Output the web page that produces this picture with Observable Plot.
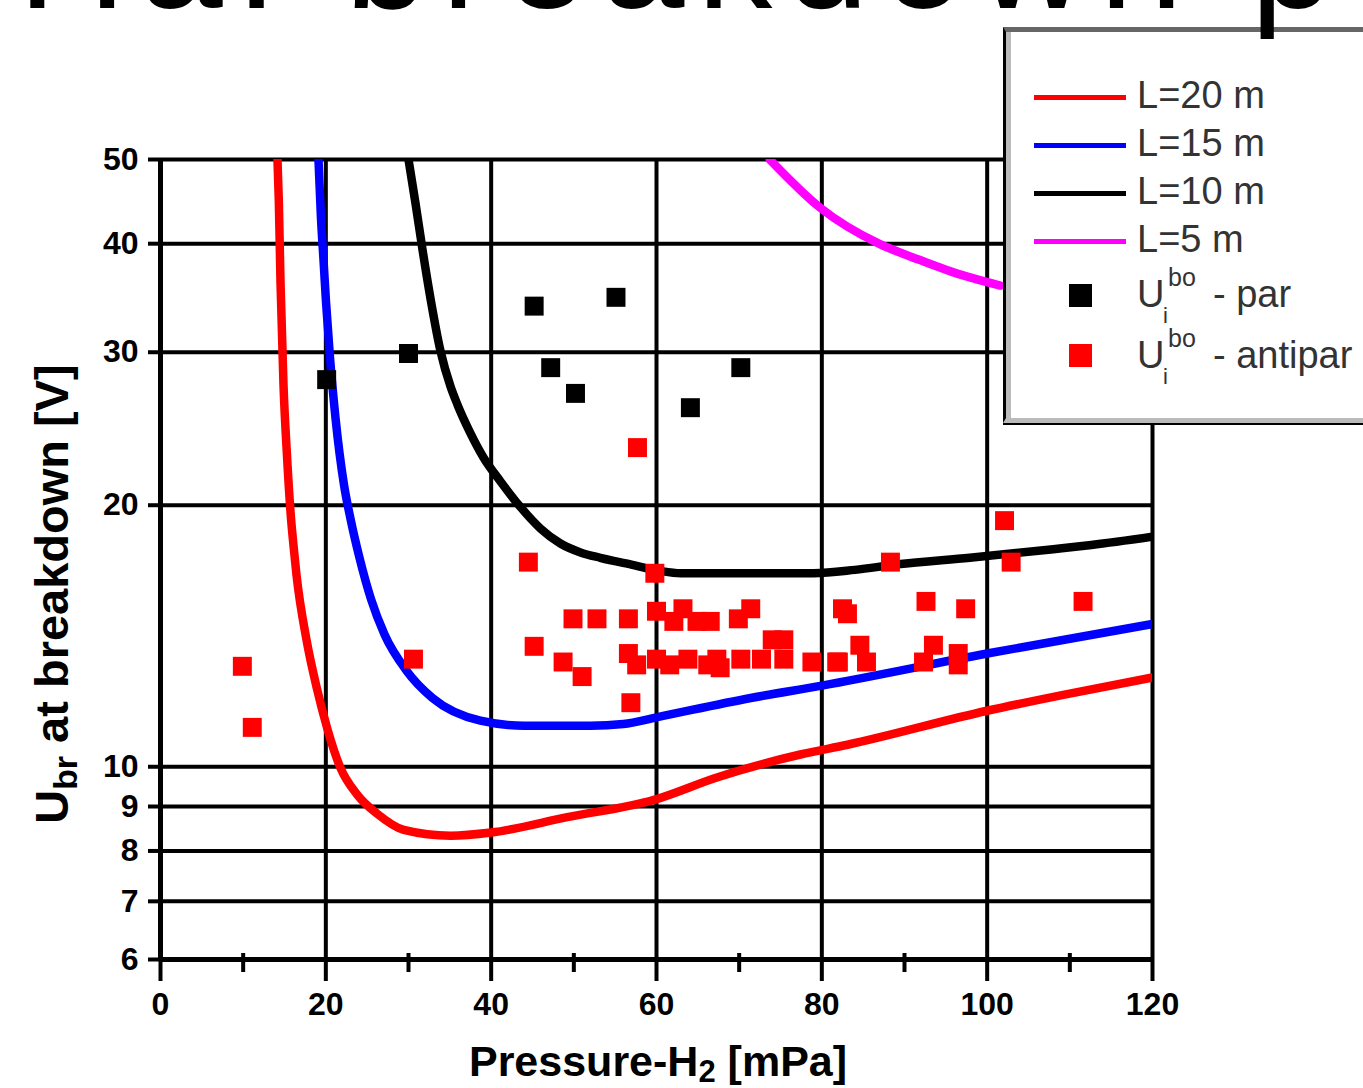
<!DOCTYPE html>
<html>
<head>
<meta charset="utf-8">
<script src="https://cdn.jsdelivr.net/npm/d3@7"></script>
<script src="https://cdn.jsdelivr.net/npm/@observablehq/plot@0.6"></script>
<style>
  html, body { margin: 0; padding: 0; background: #fff; }
  body { width: 1363px; height: 1088px; overflow: hidden; position: relative;
         font-family: "Liberation Sans", Arial, sans-serif; color: #000; }
  #chart { position: absolute; left: 0; top: 0; }
  #title { position: absolute; left: 18px; top: -119px; font-size: 150px; line-height: 150px;
           white-space: nowrap; letter-spacing: 13px; color: #000; z-index: 5; }
  .abs { position: absolute; white-space: nowrap; }
  #ylabel { position: absolute; left: 51px; top: 594px; transform: translate(-50%, -50%) rotate(-90deg);
            font-size: 47px; line-height: 47px; font-weight: bold; white-space: nowrap; }
  #ylabel sub { font-size: 0.72em; vertical-align: -0.28em; line-height: 0; }
  #xlabel sub { font-size: 0.72em; vertical-align: -0.18em; line-height: 0; }
  #xlabel { position: absolute; left: 658px; top: 1040px; transform: translateX(-50%);
            font-size: 43px; line-height: 43px; font-weight: bold; white-space: nowrap; }
  #legendbox { position: absolute; left: 1003px; top: 27px; width: 380px; height: 386px;
               border-top: 5px solid #666; border-left: 3px solid #000; border-bottom: 5px solid #bbb;
               box-shadow: inset 5px 0 0 #bbb, 0 2px 0 #000; background: #fff; z-index: 3; }
  .leg { z-index: 4; color: #333; }
  .sw { position: absolute; height: 5px; width: 92px; left: 1034px; z-index: 4; }
  .mk { position: absolute; width: 23px; height: 23px; left: 1069px; z-index: 4; }
</style>
</head>
<body>
<div id="title">Ha. breakdown p</div>
<div id="chart"></div>
<div id="ylabel">U<sub>br</sub> at breakdown [V]</div>
<div id="xlabel">Pressure-H<sub>2</sub> [mPa]</div>
<div id="legend"></div>
<script>
// ---- data ----
const xTicks = [0, 20, 40, 60, 80, 100, 120];
const xMinorTicks = [10, 30, 50, 70, 90, 110];
const yTicks = [6, 7, 8, 9, 10, 20, 30, 40, 50];

const seriesNames = ["L=20 m", "L=15 m", "L=10 m", "L=5 m"];
const seriesColors = ["#ff0000", "#0000ff", "#000000", "#ff00ff"];
const pointNames = ["par", "antipar"];
const pointColors = ["#000000", "#ff0000"];

// pressure [mPa], voltage [V]
const curveL20 = [[14.15,50],[14.31,44.9],[14.52,36.0],[14.88,27.5],[15.28,23.0],[15.79,19.3],[16.09,17.97],[16.45,16.63],[17.66,14.0],[18.95,12.27],[20.16,11.08],[21.77,9.97],[23.79,9.29],[26.21,8.83],[29.43,8.46],[35.08,8.33],[40,8.40],[49.2,8.75],[59.7,9.16],[67.3,9.72],[77.4,10.33],[83.1,10.6],[100,11.6],[109.2,12.1],[120,12.67]];
const curveL15 = [[19.11,50],[19.41,42.87],[19.72,38.3],[20.02,34.3],[20.5,29.6],[21.17,25.2],[22.2,21.1],[22.98,19.3],[24.07,17.4],[25.46,15.6],[27.1,14.2],[29.76,12.9],[32.9,12.0],[38.7,11.3],[44,11.15],[52,11.15],[56,11.2],[60,11.4],[71.4,12.0],[80,12.4],[100,13.5],[120,14.6]];
const curveL10 = [[30,50],[30.85,44.5],[31.69,39.4],[32.66,34.6],[33.87,30.1],[35.08,27.4],[35.93,26.1],[37.5,24.2],[39.07,22.7],[41.13,21.3],[43.55,19.9],[45.97,18.8],[48.38,18.07],[50.8,17.65],[53.2,17.4],[56.85,17.1],[60.48,16.8],[62.9,16.7],[79,16.7],[84,16.85],[89.2,17.1],[97.9,17.4],[108,17.8],[112.6,18.0],[120,18.4]];
const curveL5 = [[73.7,50],[79.8,44.0],[86.9,40],[91.9,38.3],[97,36.8],[101.6,35.8]];

const parPoints = [[20.1,27.9],[30,29.9],[45.2,33.9],[47.2,28.8],[50.2,26.9],[55.1,34.7],[64.1,25.9],[70.2,28.8]];
const antiparPoints = [[9.9,13.05],[11.1,11.1],[30.6,13.3],[44.5,17.2],[59.8,16.7],[57.7,23.3],[102.1,19.2],[49.9,14.8],[52.8,14.8],[56.6,14.8],[60,15.1],[63.2,15.2],[62.1,14.7],[64.9,14.7],[66.5,14.7],[69.9,14.8],[71.4,15.2],[45.2,13.76],[48.7,13.2],[51,12.7],[56.6,13.5],[57.6,13.1],[60,13.3],[61.6,13.1],[63.8,13.3],[66.2,13.1],[67.3,13.3],[67.7,13.0],[70.2,13.3],[72.7,13.3],[74,14.0],[75.4,14.0],[75.4,13.3],[78.8,13.2],[81.8,13.2],[56.9,11.85],[88.3,17.2],[102.9,17.2],[82.5,15.2],[83.1,15.0],[92.6,15.5],[97.4,15.2],[111.6,15.5],[84.6,13.8],[82,13.2],[85.4,13.2],[93.5,13.8],[92.3,13.2],[96.5,13.5],[96.5,13.1]];

// ---- build rows ----
const rows = (arr) => arr.map(([p, u]) => ({p, u}));
const curves = [curveL20, curveL15, curveL10, curveL5];

const chart = Plot.plot({
  width: 1363,
  height: 1088,
  marginLeft: 160,
  marginRight: 211,
  marginTop: 159,
  marginBottom: 129,
  style: {fontFamily: '"Liberation Sans", Arial, sans-serif', fontSize: "32px", fontWeight: "bold", color: "#000", background: "transparent"},
  x: {domain: [0, 120]},
  y: {type: "log", domain: [6, 50]},
  marks: [
    Plot.ruleY(yTicks, {stroke: "#000", strokeWidth: 4}),
    Plot.ruleX(xTicks, {stroke: "#000", strokeWidth: 4}),
    Plot.ruleX([0], {stroke: "#000", strokeWidth: 5}),
    Plot.ruleY([6], {stroke: "#000", strokeWidth: 5}),
    Plot.axisX({ticks: xTicks, tickSize: 22, tickPadding: 11, strokeWidth: 4, label: null,
                tickFormat: d => String(d), fontSize: 32, fontWeight: "bold"}),
    Plot.axisX({ticks: xMinorTicks, tickSize: 19, dy: -6, strokeWidth: 4, label: null, tickFormat: () => ""}),
    Plot.axisY({ticks: yTicks, tickSize: 12, tickPadding: 10, strokeWidth: 4, label: null,
                tickFormat: d => String(d), fontSize: 32, fontWeight: "bold"}),
    ...curves.map((c, i) => Plot.line(rows(c), {x: "p", y: "u", stroke: seriesColors[i], strokeWidth: 8.5,
                 curve: "monotone-x", clip: true, strokeLinejoin: "round"})),
    Plot.dot(rows(antiparPoints), {x: "p", y: "u", symbol: "square", r: 10.7, fill: pointColors[1], stroke: "none"}),
    Plot.dot(rows(parPoints), {x: "p", y: "u", symbol: "square", r: 10.7, fill: pointColors[0], stroke: "none"})
  ]
});
document.getElementById("chart").appendChild(chart);

// ---- legend ----
const legend = document.getElementById("legend");
const box = document.createElement("div");
box.id = "legendbox";
legend.appendChild(box);

const lineCenters = [97.5, 145.5, 193.5, 241.5];
const textBaselines = [108, 156, 204, 252];
const F = 38;
seriesNames.forEach((name, i) => {
  const sw = document.createElement("div");
  sw.className = "sw";
  sw.style.top = (lineCenters[i] - 2.5) + "px";
  sw.style.background = seriesColors[i];
  legend.appendChild(sw);
  const t = document.createElement("div");
  t.className = "abs leg";
  t.style.left = "1137px";
  t.style.fontSize = F + "px";
  t.style.lineHeight = F + "px";
  t.style.top = (textBaselines[i] - 0.8465 * F) + "px";
  t.textContent = name;
  legend.appendChild(t);
});

const ptCenters = [295, 355];
const ptBaselines = [307, 368];
pointNames.forEach((name, i) => {
  const mk = document.createElement("div");
  mk.className = "mk";
  mk.style.top = (ptCenters[i] - 11.5) + "px";
  mk.style.background = pointColors[i];
  legend.appendChild(mk);
  const b = ptBaselines[i];
  const place = (txt, left, base, size) => {
    const s = document.createElement("div");
    s.className = "abs leg";
    s.style.left = left + "px";
    s.style.fontSize = size + "px";
    s.style.lineHeight = size + "px";
    s.style.top = (base - 0.8465 * size) + "px";
    s.textContent = txt;
    legend.appendChild(s);
  };
  place("U", 1137, b, F);
  place("bo", 1168, b - 21, 25);
  place("i", 1163, b + 17, 22);
  place("- " + name, 1213, b, F);
});
</script>
</body>
</html>
